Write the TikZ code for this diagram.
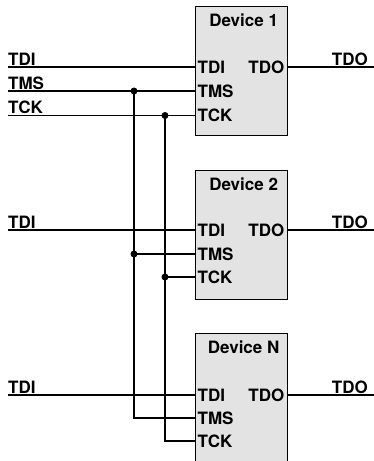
\documentclass[tikz,border=0pt]{standalone}
\usepackage{fontspec}
\setmainfont{TeX Gyre Heros}
\usetikzlibrary{positioning}

\begin{document}
\begin{tikzpicture}[x=1pt,y=-1pt]
\tikzset{
  device/.style={rectangle,draw=black,line width=1.3pt,fill=black!11,minimum width=92pt,minimum height=129pt,inner sep=0pt,anchor=north west},
  devname/.style={font=\fontsize{17}{19}\selectfont\bfseries,inner sep=0pt},
  pinlabel/.style={font=\fontsize{17}{19}\selectfont\bfseries,inner xsep=2.5pt,inner ysep=0pt},
  siglabel/.style={font=\fontsize{17}{19}\selectfont\bfseries,inner xsep=0pt,inner ysep=1.5pt},
  wire/.style={draw=black,line width=1.3pt},
  junction/.style={circle,fill=black,inner sep=0pt,minimum size=7pt}
}
\useasboundingbox (0,0) rectangle (374,461);
\clip (0,0) rectangle (374,461);
% boxes
\node[device] (d1) at (195,6) {};
\node[device] (d2) at (195,169.5) {};
\node[device] (dN) at (195,333) {};
\node[devname,below=8pt of d1.north,xshift=2pt] (d1_name) {Device 1};
\node[devname,below=8pt of d2.north,xshift=2pt] (d2_name) {Device 2};
\node[devname,below=8pt of dN.north,xshift=2pt] (dN_name) {Device N};
% pins
\node[pinlabel,anchor=west] (d1_tdi) at (195,67) {TDI};
\node[pinlabel,anchor=west] (d1_tms) at (195,91) {TMS};
\node[pinlabel,anchor=west] (d1_tck) at (195,115.5) {TCK};
\node[pinlabel,anchor=east] (d1_tdo) at (287,67) {TDO};
\node[pinlabel,anchor=west] (d2_tdi) at (195,230) {TDI};
\node[pinlabel,anchor=west] (d2_tms) at (195,254) {TMS};
\node[pinlabel,anchor=west] (d2_tck) at (195,277) {TCK};
\node[pinlabel,anchor=east] (d2_tdo) at (287,230) {TDO};
\node[pinlabel,anchor=west] (dN_tdi) at (195,395) {TDI};
\node[pinlabel,anchor=west] (dN_tms) at (195,418) {TMS};
\node[pinlabel,anchor=west] (dN_tck) at (195,441) {TCK};
\node[pinlabel,anchor=east] (dN_tdo) at (287,395) {TDO};
% signal ends
\coordinate (i_tdi1) at (8,67);
\coordinate (i_tms1) at (8,91);
\coordinate (i_tck1) at (8,115.5);
\coordinate (i_tdi2) at (8,230);
\coordinate (i_tdiN) at (8,395);
\coordinate (o_tdo1) at (374,67);
\coordinate (o_tdo2) at (374,230);
\coordinate (o_tdoN) at (374,395);
\node[siglabel,anchor=south west] (l_tdi1) at (i_tdi1) {TDI};
\node[siglabel,anchor=south west] (l_tms1) at (i_tms1) {TMS};
\node[siglabel,anchor=south west] (l_tck1) at (i_tck1) {TCK};
\node[siglabel,anchor=south west] (l_tdi2) at (i_tdi2) {TDI};
\node[siglabel,anchor=south west] (l_tdiN) at (i_tdiN) {TDI};
\node[siglabel,anchor=south east] (r_tdo1) at (368,67) {TDO};
\node[siglabel,anchor=south east] (r_tdo2) at (368,230) {TDO};
\node[siglabel,anchor=south east] (r_tdoN) at (368,395) {TDO};
% bus
\coordinate (j_tms1) at (134,91);
\coordinate (j_tck1) at (165,115.5);
\coordinate (j_tms2) at (134,254);
\coordinate (j_tck2) at (165,277);
\coordinate (c_tmsN) at (134,418);
\coordinate (c_tckN) at (165,441);
\draw[wire] (i_tdi1) -- (d1_tdi.west);
\draw[wire] (i_tms1) -- (d1_tms.west);
\draw[wire] (i_tck1) -- (d1_tck.west);
\draw[wire] (d1_tdo.east) -- (o_tdo1);
\draw[wire] (i_tdi2) -- (d2_tdi.west);
\draw[wire] (d2_tdo.east) -- (o_tdo2);
\draw[wire] (i_tdiN) -- (dN_tdi.west);
\draw[wire] (dN_tdo.east) -- (o_tdoN);
\draw[wire] (j_tms1) -- (c_tmsN) -- (dN_tms.west);
\draw[wire] (j_tck1) -- (c_tckN) -- (dN_tck.west);
\draw[wire] (j_tms2) -- (d2_tms.west);
\draw[wire] (j_tck2) -- (d2_tck.west);
\node[junction] (dot_tms1) at (j_tms1) {};
\node[junction] (dot_tck1) at (j_tck1) {};
\node[junction] (dot_tms2) at (j_tms2) {};
\node[junction] (dot_tck2) at (j_tck2) {};
\end{tikzpicture}
\end{document}
